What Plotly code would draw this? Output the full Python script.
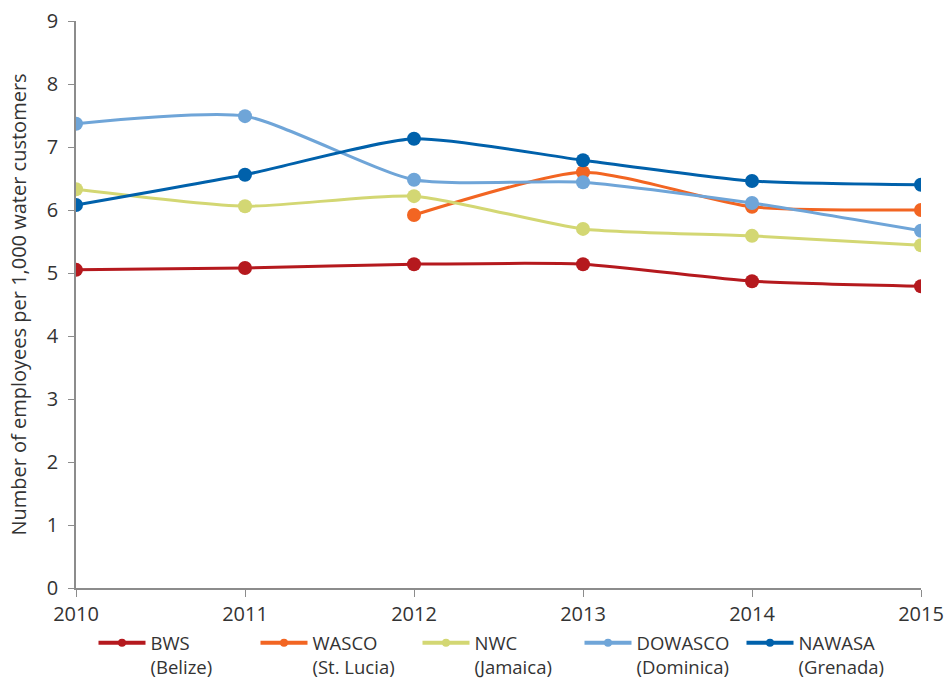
import plotly.graph_objects as go

years = [2010, 2011, 2012, 2013, 2014, 2015]
bws = [5.05, 5.08, 5.14, 5.14, 4.87, 4.79]
wasco = [None, None, 5.92, 6.60, 6.05, 6.00]
nwc = [6.33, 6.06, 6.22, 5.70, 5.59, 5.44]
dowasco = [7.37, 7.49, 6.48, 6.44, 6.11, 5.67]
nawasa = [6.08, 6.56, 7.13, 6.79, 6.46, 6.40]

series = [
    ("BWS<br>(Belize)", bws, "#B5191E"),
    ("WASCO<br>(St. Lucia)", wasco, "#F26522"),
    ("NWC<br>(Jamaica)", nwc, "#D3D773"),
    ("DOWASCO<br>(Dominica)", dowasco, "#6FA5D8"),
    ("NAWASA<br>(Grenada)", nawasa, "#0061AB"),
]

FONT = "Open Sans, DejaVu Sans, sans-serif"
fig = go.Figure()
for name, vals, col in series:
    fig.add_trace(go.Scatter(
        x=years, y=vals, name=name, mode="lines+markers",
        line=dict(color=col, width=3, shape="spline", smoothing=0.6),
        marker=dict(color=col, size=14),
        connectgaps=False, showlegend=False,
    ))
# legend entries (small marker, thick line as in the reference legend)
for name, vals, col in series:
    fig.add_trace(go.Scatter(
        x=[None], y=[None], name=name, mode="lines+markers",
        line=dict(color=col, width=4), marker=dict(color=col, size=8),
        showlegend=True,
    ))

fig.update_layout(
    width=947, height=684,
    margin=dict(l=76, r=26, t=21, b=96, autoexpand=False),
    plot_bgcolor="white", paper_bgcolor="white",
    font=dict(family=FONT, size=20, color="#333333"),
    showlegend=True,
    legend=dict(
        orientation="h", x=0.5, xanchor="center", y=-0.064, yanchor="top",
        font=dict(size=18.5, color="#333333"), valign="top",
        itemwidth=47, tracegroupgap=0, entrywidth=100, entrywidthmode="pixels",
    ),
    xaxis=dict(
        range=[2010, 2015], tickmode="array", tickvals=years,
        ticktext=[str(y) for y in years], automargin=False,
        showgrid=False, zeroline=False, showline=True, linecolor="#8c8c8c", linewidth=1.5,
        ticks="outside", ticklen=7, tickcolor="#8c8c8c",
    ),
    yaxis=dict(
        range=[0, 9], dtick=1, showgrid=False, zeroline=False, automargin=False,
        showline=True, linecolor="#8c8c8c", linewidth=1.5,
        ticks="outside", ticklen=6, tickcolor="#8c8c8c", ticklabelstandoff=6,
        title=dict(text="Number of employees per 1,000 water customers",
                   font=dict(size=20)),
    ),
)

fig.write_html("out.html", config={"displayModeBar": False},
               post_script="document.body.style.margin='0';")
